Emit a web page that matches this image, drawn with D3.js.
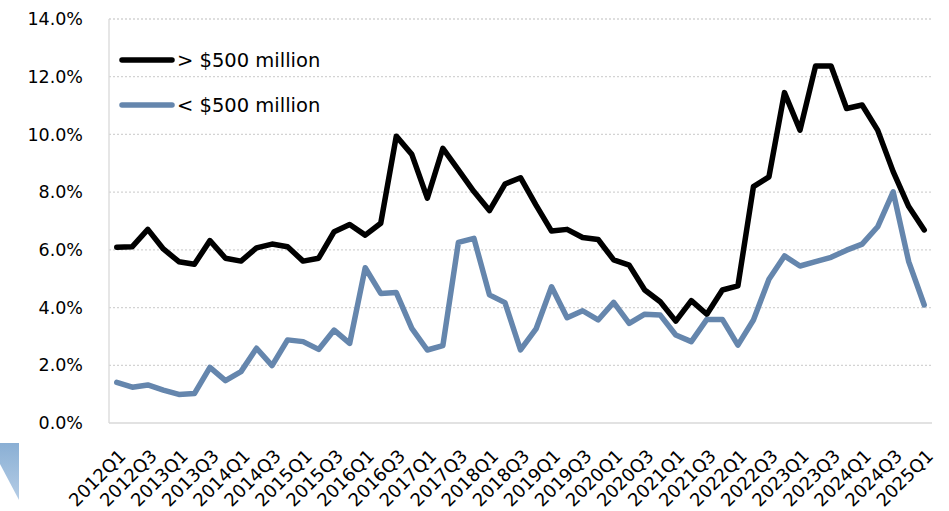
<!DOCTYPE html>
<html lang="en">
<head>
<meta charset="UTF-8">
<title>Share by size</title>
<script src="https://cdn.jsdelivr.net/npm/d3@7"></script>
<style>
  body { margin: 0; background: #fff; }
  text { font-family: "DejaVu Sans", sans-serif; fill: #000; }
</style>
</head>
<body>
<svg id="chart" width="949" height="511"></svg>
<script>
var quarters = [
  "2012Q1","2012Q2","2012Q3","2012Q4","2013Q1","2013Q2","2013Q3","2013Q4",
  "2014Q1","2014Q2","2014Q3","2014Q4","2015Q1","2015Q2","2015Q3","2015Q4",
  "2016Q1","2016Q2","2016Q3","2016Q4","2017Q1","2017Q2","2017Q3","2017Q4",
  "2018Q1","2018Q2","2018Q3","2018Q4","2019Q1","2019Q2","2019Q3","2019Q4",
  "2020Q1","2020Q2","2020Q3","2020Q4","2021Q1","2021Q2","2021Q3","2021Q4",
  "2022Q1","2022Q2","2022Q3","2022Q4","2023Q1","2023Q2","2023Q3","2023Q4",
  "2024Q1","2024Q2","2024Q3","2024Q4","2025Q1"
];

// percent values
var large = [
  6.09, 6.11, 6.71, 6.03, 5.59, 5.50, 6.32, 5.71,
  5.61, 6.07, 6.20, 6.11, 5.61, 5.71, 6.63, 6.88,
  6.51, 6.92, 9.94, 9.31, 7.79, 9.52, 8.77, 8.02,
  7.36, 8.28, 8.50, 7.55, 6.65, 6.71, 6.43, 6.36,
  5.65, 5.47, 4.61, 4.20, 3.53, 4.24, 3.77, 4.61,
  4.75, 8.19, 8.53, 11.45, 10.15, 12.37, 12.37, 10.90,
  11.02, 10.15, 8.71, 7.50, 6.69
];
var small = [
  1.41, 1.24, 1.32, 1.14, 0.99, 1.02, 1.93, 1.47,
  1.78, 2.59, 1.99, 2.88, 2.82, 2.55, 3.22, 2.76,
  5.38, 4.49, 4.52, 3.28, 2.53, 2.68, 6.26, 6.40,
  4.44, 4.17, 2.53, 3.26, 4.72, 3.65, 3.89, 3.57,
  4.18, 3.45, 3.77, 3.74, 3.05, 2.82, 3.59, 3.59,
  2.70, 3.57, 4.98, 5.79, 5.44, 5.59, 5.74, 5.99,
  6.20, 6.80, 8.01, 5.59, 4.09
];
var yTicks = [0, 2, 4, 6, 8, 10, 12, 14];
var seriesNames = ["> $500 million", "< $500 million"];
var seriesColors = ["#000000", "#6586ad"];

var width = 949, height = 511;
var margin = {top: 19, right: 17, bottom: 88, left: 109};
var svg = d3.select("#chart");

// stray corner graphic from the source image
var grad = svg.append("defs").append("linearGradient")
    .attr("id", "cornerGrad").attr("x1", 0).attr("y1", 0).attr("x2", 0).attr("y2", 1);
grad.append("stop").attr("offset", "0%").attr("stop-color", "#8aafd4");
grad.append("stop").attr("offset", "100%").attr("stop-color", "#b5cde6");
svg.append("polygon")
    .attr("points", "0,443 19,443 19,500 0,464")
    .attr("fill", "url(#cornerGrad)");

var x = d3.scaleBand()
    .domain(quarters)
    .range([margin.left, width - margin.right]);

var y = d3.scaleLinear()
    .domain([0, 14])
    .range([height - margin.bottom, margin.top]);

// gridlines
svg.append("g")
    .selectAll("line")
    .data(yTicks.filter(function(d) { return d > 0; }))
    .enter().append("line")
    .attr("x1", margin.left)
    .attr("x2", width - margin.right)
    .attr("y1", function(d) { return y(d); })
    .attr("y2", function(d) { return y(d); })
    .attr("stroke", "#d3d3d3")
    .attr("stroke-width", 1.3)
    .attr("stroke-dasharray", "2,2");

// axes lines
svg.append("line")
    .attr("x1", margin.left).attr("x2", margin.left)
    .attr("y1", margin.top).attr("y2", y(0))
    .attr("stroke", "#d9d9d9").attr("stroke-width", 1.3);
svg.append("line")
    .attr("x1", margin.left).attr("x2", width - margin.right)
    .attr("y1", y(0)).attr("y2", y(0))
    .attr("stroke", "#d9d9d9").attr("stroke-width", 1.3);

// y axis labels
var yAxis = d3.axisLeft(y)
    .tickValues(yTicks)
    .tickFormat(function(d) { return d.toFixed(1) + "%"; })
    .tickSize(0)
    .tickPadding(26);
var gy = svg.append("g")
    .attr("transform", "translate(" + margin.left + ",0)")
    .call(yAxis);
gy.select(".domain").remove();
gy.selectAll("text")
    .attr("font-size", "17.5px")
    .attr("font-family", "DejaVu Sans, sans-serif")
    .attr("fill", "#000");

// x axis labels (every other quarter)
var labelQuarters = quarters.filter(function(d, i) { return i % 2 === 0; });
svg.append("g")
    .selectAll("text")
    .data(labelQuarters)
    .enter().append("text")
    .attr("transform", function(d) {
        return "translate(" + (x(d) + x.bandwidth() / 2 + 1) + "," + 448 + ") rotate(-45)";
    })
    .attr("text-anchor", "end")
    .attr("dy", "0.72em")
    .attr("font-size", "18px")
    .text(function(d) { return d; });

// lines
var line = d3.line()
    .x(function(d, i) { return x(quarters[i]) + x.bandwidth() / 2; })
    .y(function(d) { return y(d); });

[large, small].forEach(function(s, k) {
    svg.append("path")
        .datum(s)
        .attr("fill", "none")
        .attr("stroke", seriesColors[k])
        .attr("stroke-width", 5.5)
        .attr("stroke-linejoin", "round")
        .attr("stroke-linecap", "round")
        .attr("d", line);
});

// legend
var legend = svg.append("g")
    .selectAll("g")
    .data(seriesNames)
    .enter().append("g")
    .attr("transform", function(d, i) { return "translate(122," + (60 + i * 45) + ")"; });
legend.append("line")
    .attr("x1", 0).attr("x2", 50)
    .attr("stroke", function(d, i) { return seriesColors[i]; })
    .attr("stroke-width", 5.5)
    .attr("stroke-linecap", "round");
legend.append("text")
    .attr("x", 55)
    .attr("dy", "0.36em")
    .attr("font-size", "19.5px")
    .text(function(d) { return d; });
</script>
</body>
</html>
